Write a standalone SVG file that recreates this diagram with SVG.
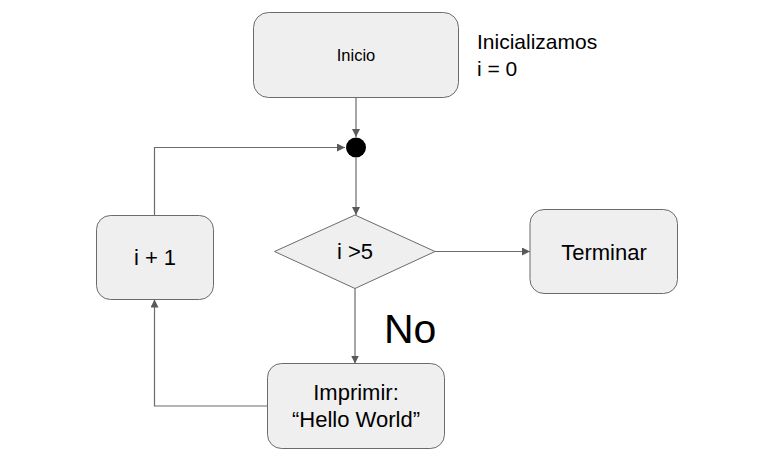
<svg xmlns="http://www.w3.org/2000/svg" width="763" height="472" viewBox="0 0 763 472">
<style>
.box{fill:#efefef;stroke:#6b6b6b;stroke-width:1}
.t{font-family:"Liberation Sans",Arial,sans-serif;fill:#000}
.c{fill:none;stroke:#6b6b6b;stroke-width:1.2}
</style>
<defs>
<marker id="ah" viewBox="0 0 10 10" refX="10" refY="5" markerWidth="8" markerHeight="8" markerUnits="userSpaceOnUse" orient="auto">
<path d="M0,0 L10,5 L0,10 z" fill="#595959"/>
</marker>
</defs>
<rect width="763" height="472" fill="#fff"/>
<g id="connectors">
<path class="c" d="M356,97 V137" marker-end="url(#ah)"/>
<path class="c" d="M154.5,215 V147.5 H345" marker-end="url(#ah)"/>
<path class="c" d="M356,158 V215" marker-end="url(#ah)"/>
<path class="c" d="M435,251.5 H530" marker-end="url(#ah)"/>
<path class="c" d="M355,288.5 V363.5" marker-end="url(#ah)"/>
<path class="c" d="M267.5,406 H154.5 V299.5" marker-end="url(#ah)"/>
</g>
<g id="inicio">
<rect class="box" x="253.5" y="12.5" width="205" height="85" rx="15"/>
<text class="t" x="356" y="60.5" font-size="16.5" text-anchor="middle">Inicio</text>
</g>
<g id="nota">
<text class="t" x="477" y="49" font-size="21">Inicializamos</text>
<text class="t" x="477" y="76" font-size="21">i = 0</text>
</g>
<g id="junction">
<circle cx="356" cy="147.5" r="10" fill="#000"/>
</g>
<g id="incremento">
<rect class="box" x="96.5" y="215.5" width="117" height="84" rx="14"/>
<text class="t" x="155" y="265" font-size="22" text-anchor="middle">i + 1</text>
</g>
<g id="condicion">
<polygon class="box" points="274.5,251.5 355,215 435,251.5 355,288.5"/>
<text class="t" x="355" y="259" font-size="22" text-anchor="middle">i &gt;5</text>
</g>
<g id="terminar">
<rect class="box" x="530" y="209.5" width="147.5" height="84" rx="14"/>
<text class="t" x="604" y="260" font-size="22" text-anchor="middle">Terminar</text>
</g>
<g id="imprimir">
<rect class="box" x="267.5" y="363.5" width="177" height="85" rx="14"/>
<text class="t" x="356" y="400" font-size="22" text-anchor="middle">Imprimir:</text>
<text class="t" x="356" y="427" font-size="22" text-anchor="middle">“Hello World”</text>
</g>
<g id="no-label">
<text class="t" x="384" y="343" font-size="41">No</text>
</g>
</svg>
